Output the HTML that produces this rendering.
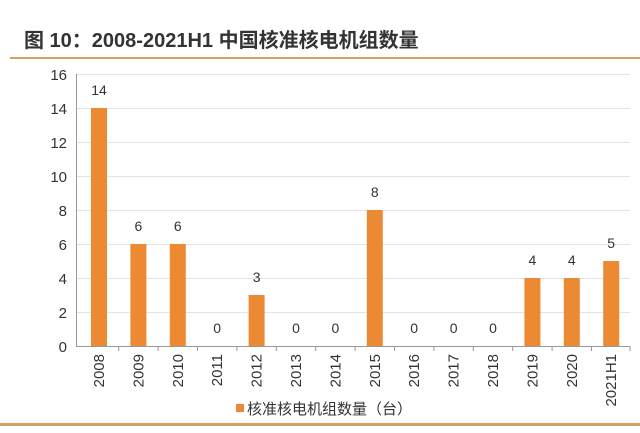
<!DOCTYPE html>
<html><head><meta charset="utf-8"><style>
body{margin:0;background:#fff;width:640px;height:428px;overflow:hidden;}
</style></head><body>
<svg width="640" height="428" xmlns="http://www.w3.org/2000/svg" font-family="Liberation Sans, Noto Sans CJK SC, sans-serif">
<text x="24" y="47" font-size="20" font-weight="bold" fill="#333">图 10：2008-2021H1 中国核准核电机组数量</text>
<rect x="10" y="57" width="630" height="2" fill="#d4a260"/>
<g stroke="#e4e4e4" stroke-width="1">
<line x1="76" x2="630" y1="74.5" y2="74.5"/><line x1="76" x2="630" y1="108.5" y2="108.5"/>
<line x1="76" x2="630" y1="142.5" y2="142.5"/><line x1="76" x2="630" y1="176.5" y2="176.5"/>
<line x1="76" x2="630" y1="210.5" y2="210.5"/><line x1="76" x2="630" y1="244.5" y2="244.5"/>
<line x1="76" x2="630" y1="278.5" y2="278.5"/><line x1="76" x2="630" y1="312.5" y2="312.5"/>
</g>
<g stroke="#999" stroke-width="1">
<line x1="76.5" x2="76.5" y1="74" y2="346"/>
<line x1="76" x2="630" y1="346.5" y2="346.5"/>
<line x1="118.7" x2="118.7" y1="346" y2="351"/><line x1="158.1" x2="158.1" y1="346" y2="351"/>
<line x1="197.5" x2="197.5" y1="346" y2="351"/><line x1="236.9" x2="236.9" y1="346" y2="351"/>
<line x1="276.3" x2="276.3" y1="346" y2="351"/><line x1="315.7" x2="315.7" y1="346" y2="351"/>
<line x1="355.1" x2="355.1" y1="346" y2="351"/><line x1="394.5" x2="394.5" y1="346" y2="351"/>
<line x1="433.9" x2="433.9" y1="346" y2="351"/><line x1="473.3" x2="473.3" y1="346" y2="351"/>
<line x1="512.7" x2="512.7" y1="346" y2="351"/><line x1="552.1" x2="552.1" y1="346" y2="351"/>
<line x1="591.5" x2="591.5" y1="346" y2="351"/><line x1="630" x2="630" y1="346" y2="351"/>
</g>
<g font-size="15" fill="#333" text-anchor="end">
<text x="67" y="80">16</text><text x="67" y="114">14</text><text x="67" y="148">12</text>
<text x="67" y="182">10</text><text x="67" y="216">8</text><text x="67" y="250">6</text>
<text x="67" y="284">4</text><text x="67" y="318">2</text><text x="67" y="352">0</text>
</g>
<g fill="#ec8a33">
<rect x="91" y="108" width="16" height="238"/>
<rect x="130.4" y="244" width="16" height="102"/>
<rect x="169.8" y="244" width="16" height="102"/>
<rect x="248.6" y="295" width="16" height="51"/>
<rect x="366.8" y="210" width="16" height="136"/>
<rect x="524.4" y="278" width="16" height="68"/>
<rect x="563.8" y="278" width="16" height="68"/>
<rect x="603.2" y="261" width="16" height="85"/>
</g>
<g font-size="14" fill="#333" text-anchor="middle">
<text x="99" y="95">14</text><text x="138.4" y="231">6</text><text x="177.8" y="231">6</text>
<text x="217.2" y="333">0</text><text x="256.6" y="282">3</text><text x="296" y="333">0</text>
<text x="335.4" y="333">0</text><text x="374.8" y="197">8</text><text x="414.2" y="333">0</text>
<text x="453.6" y="333">0</text><text x="493" y="333">0</text><text x="532.4" y="265">4</text>
<text x="571.8" y="265">4</text><text x="611.2" y="248">5</text>
</g>
<g font-size="15" fill="#333" text-anchor="end">
<text transform="translate(104,354) rotate(-90)">2008</text>
<text transform="translate(143.4,354) rotate(-90)">2009</text>
<text transform="translate(182.8,354) rotate(-90)">2010</text>
<text transform="translate(222.2,354) rotate(-90)">2011</text>
<text transform="translate(261.6,354) rotate(-90)">2012</text>
<text transform="translate(301,354) rotate(-90)">2013</text>
<text transform="translate(340.4,354) rotate(-90)">2014</text>
<text transform="translate(379.8,354) rotate(-90)">2015</text>
<text transform="translate(419.2,354) rotate(-90)">2016</text>
<text transform="translate(458.6,354) rotate(-90)">2017</text>
<text transform="translate(498,354) rotate(-90)">2018</text>
<text transform="translate(537.4,354) rotate(-90)">2019</text>
<text transform="translate(576.8,354) rotate(-90)">2020</text>
<text transform="translate(616.2,354) rotate(-90)">2021H1</text>
</g>
<rect x="236" y="404" width="8" height="8" fill="#ec8a33"/>
<text x="247" y="414" font-size="15" fill="#333">核准核电机组数量（台）</text>
<rect x="0" y="423" width="640" height="3" fill="#d4a260"/>
</svg>
</body></html>
